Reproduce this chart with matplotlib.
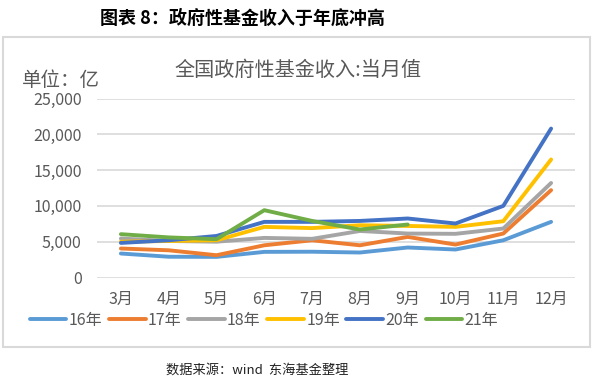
import matplotlib
matplotlib.use("Agg")
import matplotlib.pyplot as plt
from matplotlib.patches import Rectangle

plt.rcParams['font.family'] = ['Noto Sans CJK SC', 'DejaVu Sans']

months = ['3月', '4月', '5月', '6月', '7月', '8月', '9月', '10月', '11月', '12月']
y16 = [3350, 2900, 2880, 3580, 3600, 3490, 4190, 3910, 5200, 7770]
y17 = [4050, 3800, 3110, 4500, 5200, 4500, 5670, 4600, 6140, 12200]
y18 = [5440, 5100, 5000, 5530, 5400, 6500, 6140, 6100, 6840, 13200]
y19 = [5000, 5100, 5200, 7070, 6900, 7300, 7200, 7070, 7860, 16480]
y20 = [4830, 5200, 5800, 7770, 7770, 7900, 8240, 7540, 10000, 20800]
y21 = [6050, 5600, 5350, 9400, 7900, 6700, 7400]
series = [('16年', y16, '#5B9BD5'), ('17年', y17, '#ED7D31'),
          ('18年', y18, '#A5A5A5'), ('19年', y19, '#FFC000'),
          ('20年', y20, '#4472C4'), ('21年', y21, '#70AD47')]
yticks = [0, 5000, 10000, 15000, 20000, 25000]

W, H = 596, 379
fig = plt.figure(figsize=(W / 100, H / 100), dpi=100)

# outer frame around the chart
fig.patches.append(Rectangle((3 / W, 1 - 347 / H), 587 / W, 310 / H,
                             transform=fig.transFigure, fill=False,
                             edgecolor='#D9D9D9', lw=1.5))

ax = fig.add_axes([97 / W, 1 - 277.5 / H, 478 / W, 179 / H])
x = list(range(len(months)))
for name, vals, col in series:
    ax.plot(x[:len(vals)], vals, color=col, lw=2.8, label=name,
            solid_capstyle='round', solid_joinstyle='round')

ax.set_xlim(-0.5, len(months) - 0.5)
ax.set_ylim(0, 25000)
ax.set_yticks(yticks)
ax.set_yticklabels([f'{v:,}' for v in yticks])
ax.set_xticks(x)
ax.set_xticklabels(months)
ax.grid(axis='y', color='#D9D9D9', lw=1.2)
ax.set_axisbelow(True)
for s in ax.spines.values():
    s.set_visible(False)
ax.tick_params(axis='both', length=0, colors='#595959', labelsize=11.5)
ax.tick_params(axis='x', pad=10)
ax.tick_params(axis='y', pad=11)

fig.text(242 / W, 1 - 18 / H, '图表 8：政府性基金收入于年底冲高',
         ha='center', va='center', fontsize=13, fontweight='bold', color='black')
fig.text(298 / W, 1 - 70 / H, '全国政府性基金收入:当月值',
         ha='center', va='center', fontsize=14.5, color='#595959')
fig.text(22 / W, 1 - 81 / H, '单位：亿', ha='left', va='center',
         fontsize=14, color='#595959')
fig.text(257 / W, 1 - 370 / H, '数据来源：wind  东海基金整理',
         ha='center', va='center', fontsize=9.5, style='italic', color='#222222')

leg = fig.legend(loc='center', bbox_to_anchor=(264 / W, 1 - 320 / H), ncol=6,
                 frameon=False, fontsize=11.5, handlelength=2.3,
                 handletextpad=0.15, columnspacing=0.4, borderaxespad=0)
for t in leg.get_texts():
    t.set_color('#595959')

fig.savefig('out.png', dpi=100)
